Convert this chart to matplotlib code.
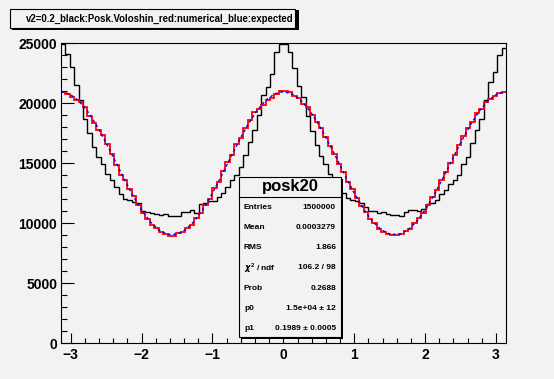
import numpy as np
import matplotlib
matplotlib.use('Agg')
import matplotlib.pyplot as plt
from matplotlib.patches import Rectangle

# bins: 100 from -pi to pi
black = [24970, 24140, 23030, 21500, 20250, 18670, 17560, 16360, 15530, 14970,
         14140, 13640, 13030, 12470, 12060, 11970, 11750, 11690, 11030, 10940,
         10860, 10810, 10720, 10800, 10610,
         10610, 10650, 10940, 10940, 11080, 10860, 11640, 11700, 11900, 11860,
         12220, 12500, 13030, 13580, 14000, 14690, 15670, 16780, 17750, 19000,
         20670, 21360, 22470, 24280, 24920,
         24950, 24250, 22900, 21450, 20500, 18900, 17700, 16500, 15600, 14900,
         14100, 13600, 13050, 12500, 12100, 11950, 11900, 11700, 11350, 11030,
         11000, 10860, 10940, 10800, 10720,
         10670, 10610, 10940, 11080, 11140, 11050, 11220, 11640, 11700, 11970,
         12470, 12750, 13310, 13580, 14000, 14970, 15530, 16690, 17810, 18720,
         20310, 21780, 22610, 24000, 24640]

red = [20950, 20780, 20560, 20250, 20100, 19700, 18900, 18350, 17780, 17330,
       16620, 15800, 14870, 14050, 13580, 12880, 12300, 11550, 10850, 10350,
       9900, 9650, 9300, 9100, 8950,
       8950, 9200, 9280, 9650, 9900, 10450, 10850, 11550, 12050, 12900,
       13450, 14350, 15100, 15650, 16600, 17100, 17950, 18600, 19300, 19550,
       19850, 20300, 20450, 20750, 21050,
       21050, 20900, 20600, 20450, 19950, 19650, 19000, 18450, 17900, 17150,
       16400, 15800, 14950, 14300, 13450, 12850, 12100, 11450, 10950, 10350,
       10000, 9550, 9300, 9150, 9000,
       9050, 9100, 9350, 9550, 10000, 10450, 10900, 11500, 12200, 12750,
       13600, 14300, 15050, 15700, 16550, 17250, 17900, 18450, 19150, 19550,
       20100, 20350, 20600, 20850, 20900]

# expected curve, read at 51 points from -pi to pi
blue = [20967, 20780, 20229, 19350, 18197, 16844, 15375, 13882, 12459, 11197,
        10173, 9452, 9080, 9080, 9452, 10173, 11197, 12459, 13882, 15375,
        16844, 18197, 19350, 20229, 20780,
        20967, 20780, 20229, 19350, 18197, 16844, 15375, 13882, 12459, 11197,
        10173, 9452, 9080, 9080, 9452, 10173, 11197, 12459, 13882, 15375,
        16844, 18197, 19350, 20229, 20780, 20967]

xticks = [-3, -2, -1, 0, 1, 2, 3]
yticks = [0, 5000, 10000, 15000, 20000, 25000]

title = "v2=0.2_black:Posk.Voloshin_red:numerical_blue:expected"
stat_names = ["Entries", "Mean", "RMS", r"$\chi^{2}$ / ndf", "Prob", "p0", "p1"]
stat_vals = ["1500000", "0.0003279", "1.866", "106.2 / 98", "0.2688",
             "1.5e+04 \u00b1 12", "0.1989 \u00b1 0.0005"]

plt.rcParams['font.family'] = ['Liberation Sans', 'DejaVu Sans']
plt.rcParams['font.weight'] = 'bold'
plt.rcParams['mathtext.fontset'] = 'custom'
plt.rcParams['mathtext.rm'] = 'Liberation Sans'
plt.rcParams['mathtext.it'] = 'DejaVu Sans:italic'

W, H = 554, 379
bg = '#f2f2f2'
fig = plt.figure(figsize=(W/100, H/100), dpi=100, facecolor=bg)

def fx(x):
    return x / W

def fy(y):
    return 1 - y / H

ax = fig.add_axes([fx(60.7), fy(343.3), fx(506) - fx(60.7), fy(42.7) - fy(343.3)])
ax.set_facecolor(bg)

edges = np.linspace(-np.pi, np.pi, len(black) + 1)
ax.stairs(black, edges, color='black', lw=1.0, baseline=None)
ax.stairs(red, edges, color='#ff0000', lw=1.3, baseline=None)
xb = np.linspace(-np.pi, np.pi, len(blue))
ax.plot(xb, blue, color='#0000ff', lw=1.0, dashes=(2, 2))

ax.set_xlim(-np.pi, np.pi)
ax.set_ylim(0, 25050)
ax.set_xticks(xticks)
ax.set_yticks(yticks)
ax.set_xticks(np.arange(-3.0, 3.01, 0.2), minor=True)
ax.set_yticks(np.arange(0, 25001, 1000), minor=True)
ax.tick_params(axis='both', which='both', direction='in', width=0.8, labelsize=10)
ax.tick_params(axis='y', which='major', length=9, pad=2.5)
ax.tick_params(axis='y', which='minor', length=4.5)
ax.tick_params(axis='x', which='major', length=7, pad=3.5)
ax.tick_params(axis='x', which='minor', length=3.6)
for lab in ax.get_xticklabels() + ax.get_yticklabels():
    lab.set_fontweight('bold')
for s in ax.spines.values():
    s.set_linewidth(0.8)

# title box
fig.add_artist(Rectangle((fx(12), fy(30)), fx(297) - fx(10), fy(10) - fy(30),
                         transform=fig.transFigure, facecolor='black', edgecolor='none'))
fig.add_artist(Rectangle((fx(10), fy(28)), fx(295) - fx(10), fy(9) - fy(28),
                         transform=fig.transFigure, facecolor=bg, edgecolor='black', lw=0.8))
fig.text(fx(26), fy(18.5), title, fontsize=6.9, fontweight='bold', va='center', ha='left')

# stats box
bx0, bx1, by0, by1 = 239, 341, 177, 337
fig.add_artist(Rectangle((fx(bx0 + 2), fy(by1 + 2)), fx(bx1) - fx(bx0), fy(by0) - fy(by1),
                         transform=fig.transFigure, facecolor='black', edgecolor='none', zorder=5))
fig.add_artist(Rectangle((fx(bx0), fy(by1)), fx(bx1) - fx(bx0), fy(by0) - fy(by1),
                         transform=fig.transFigure, facecolor=bg, edgecolor='black', lw=0.8, zorder=6))
fig.add_artist(plt.Line2D([fx(bx0), fx(bx1)], [fy(197), fy(197)], transform=fig.transFigure,
                          color='black', lw=0.8, zorder=7))
fig.text(fx((bx0 + bx1) / 2), fy(187), "posk20", fontsize=12, fontweight='bold',
         ha='center', va='center', zorder=8)
for i, (n, v) in enumerate(zip(stat_names, stat_vals)):
    yy = fy(207.3 + 20.2 * i)
    fig.text(fx(244), yy, n, fontsize=6, fontweight='bold', ha='left', va='center', zorder=8)
    fig.text(fx(336), yy, v, fontsize=6, fontweight='bold', ha='right', va='center', zorder=8)

fig.savefig('out.png', dpi=100, facecolor=bg)
